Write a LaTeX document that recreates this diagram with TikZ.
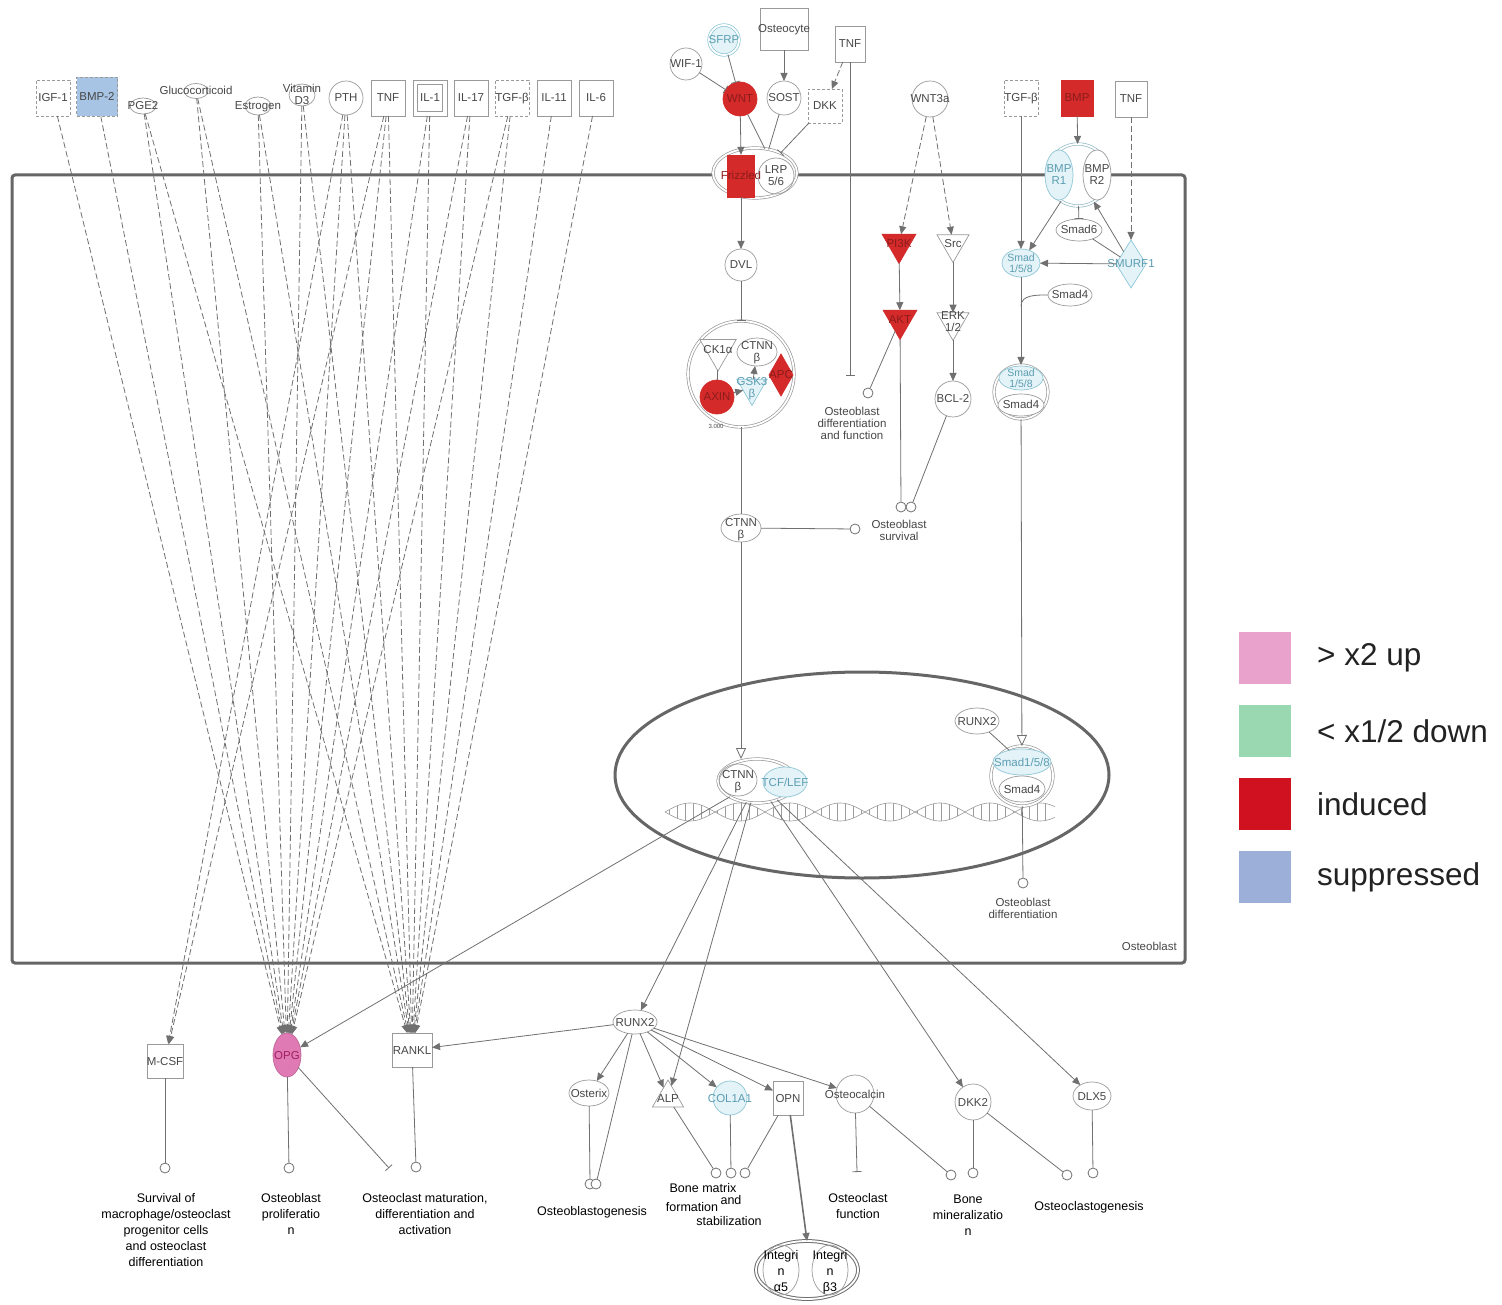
\documentclass[tikz,border=0pt]{standalone}
\usepackage{fontspec}
\setmainfont{Liberation Sans}
\usetikzlibrary{shapes.geometric,arrows.meta}
\definecolor{lc}{HTML}{707070}
\definecolor{ng}{HTML}{9A9A9A}
\definecolor{tx}{HTML}{474747}
\definecolor{ind}{HTML}{D42A2A}
\definecolor{rdt}{HTML}{8B1C1C}
\definecolor{lbo}{HTML}{8EC6D6}
\definecolor{lbf}{HTML}{E4F3F7}
\definecolor{lbt}{HTML}{5C9DB3}
\definecolor{sup}{HTML}{A8C4E4}
\definecolor{upc}{HTML}{E07AB4}
\definecolor{upt}{HTML}{A02060}
\definecolor{legpink}{HTML}{E9A2CC}
\definecolor{leggreen}{HTML}{9AD8B2}
\definecolor{legred}{HTML}{D0111F}
\definecolor{legblue}{HTML}{9BAFD9}
\definecolor{legtx}{HTML}{222222}
\definecolor{mem}{HTML}{666666}
\definecolor{dna}{HTML}{9C9C9C}
\newcommand\ndfont{\fontsize{11.5}{12}\selectfont}
\newcommand\smfont{\fontsize{10.5}{11}\selectfont}
\newcommand\lblfont{\fontsize{12.5}{16}\selectfont}
\newcommand\legfont{\fontsize{31.5}{36}\selectfont}
\newcommand\zt[1]{\makebox[0pt]{\raisebox{-.4em}[0pt][0pt]{\begin{tabular}[c]{@{}c@{}}#1\end{tabular}}}}
\begin{document}
\begin{tikzpicture}[x=1pt,y=-1pt,
 nbase/.style={draw=ng, fill=white, line width=.7pt, inner sep=0pt, outer sep=0pt, font=\ndfont, text=tx},
 bx/.style={nbase, rectangle, minimum width=34, minimum height=36},
 dbx/.style={bx, dash pattern=on 3pt off 2pt},
 cir/.style={nbase, circle, minimum size=34},
 el/.style={nbase, ellipse},
 lb/.style={draw=lbo, fill=lbf, text=lbt},
 rd/.style={draw=ind, fill=ind, text=rdt},
 dbl/.style={double=white, double distance=1.8pt},
 itri/.style={nbase, regular polygon, regular polygon sides=3, shape border rotate=180},
 utri/.style={nbase, regular polygon, regular polygon sides=3},
 dia/.style={nbase, diamond},
 res/.style={draw=lc, fill=white, circle, minimum size=10, inner sep=0pt, line width=.8pt},
 act/.style={draw=lc, line width=.8pt, -{Triangle[length=8pt,width=7pt]}},
 oact/.style={draw=lc, line width=.8pt, -{Triangle[open,length=11pt,width=10pt,fill=white]}},
 dact/.style={act, dash pattern=on 6pt off 3pt},
 inh/.style={draw=lc, line width=.8pt, -{Bar[width=9pt]}},
 lk/.style={draw=lc, line width=.8pt},
 txt/.style={font=\ndfont, text=tx, align=center, inner sep=0pt},
 lbl/.style={font=\lblfont, text=black, align=center, inner sep=0pt},
 leg/.style={minimum width=52, minimum height=52, inner sep=0pt},
 legt/.style={font=\legfont, text=legtx, anchor=west, inner sep=0pt}]
\useasboundingbox (0,0) rectangle (1502,1305);
\fill[white] (0,0) rectangle (1502,1305);

% membrane and nucleus
\draw[mem, line width=3pt, rounded corners=3] (12,175) rectangle (1185,963);
\node[draw=mem, line width=3pt, ellipse, minimum width=494, minimum height=206, inner sep=0pt] (nuc) at (862,775) {};
\draw[dna, line width=.6pt] plot[domain=665:1055, samples=200] (\x, {812+9*sin((\x-665)*3.6)});
\draw[dna, line width=.6pt] plot[domain=665:1055, samples=200] (\x, {812-9*sin((\x-665)*3.6)});
\foreach \x in {669,677,...,1051} \draw[dna, line width=.5pt] (\x,{812+9*sin((\x-665)*3.6)}) -- (\x,{812-9*sin((\x-665)*3.6)});
\node[txt, anchor=east] (ob) at (1177,946) {Osteoblast};

% ligands top left
\node[dbx] (igf) at (53,98) {\zt{IGF-1}};
\node[dbx, fill=sup, minimum width=41, minimum height=39] (bmp2) at (97,97) {\zt{BMP-2}};
\node[el, minimum width=26, minimum height=16] (pge) at (143,106) {\zt{PGE2}};
\node[el, minimum width=24, minimum height=15] (glu) at (196,91) {\zt{Glucocorticoid}};
\node[el, minimum width=26, minimum height=18] (est) at (258,106) {\zt{Estrogen}};
\node[el, minimum width=26, minimum height=22] (vit) at (302,95) {\zt{Vitamin\\D3}};
\node[cir] (pth) at (346,98) {\zt{PTH}};
\node[bx] (tnf1) at (388,98) {\zt{TNF}};
\node[bx] (il1) at (430,98) {};
\node[bx, minimum width=25, minimum height=27] (il1i) at (430,98) {\zt{IL-1}};
\node[bx] (il17) at (471,98) {\zt{IL-17}};
\node[dbx] (tgf1) at (512,98) {\zt{TGF-β}};
\node[bx] (il11) at (554,98) {\zt{IL-11}};
\node[bx] (il6) at (596,98) {\zt{IL-6}};

% bottom-left targets
\node[bx, minimum width=36, minimum height=34] (msf) at (165,1061) {\zt{M-CSF}};
\node[el, fill=upc, draw=upc!85!black, text=upt, minimum width=28, minimum height=44] (opg) at (287,1055) {\zt{OPG}};
\node[bx, minimum width=40, minimum height=34] (rankl) at (412,1050) {\zt{RANKL}};

\foreach \s/\t in {igf/opg, bmp2/opg, pge/opg, pge/rankl, glu/opg, glu/rankl, est/opg, est/rankl, vit/opg, vit/rankl, pth/msf, pth/opg, pth/rankl, tnf1/msf, tnf1/opg, tnf1/rankl, il1/opg, il1/rankl, il17/opg, il17/rankl, tgf1/opg, tgf1/rankl, il11/rankl, il6/rankl}
  \draw[dact] (\s) -- (\t);

% WNT pathway
\node[bx, minimum width=48, minimum height=42] (ocy) at (784,29) {\zt{Osteocyte}};
\node[cir, lb, dbl, minimum size=30] (sfrp) at (724,40) {\zt{SFRP}};
\node[cir, minimum size=32] (wif) at (686,64) {\zt{WIF-1}};
\node[cir, rd] (wnt) at (740,99) {\zt{WNT}};
\node[cir] (sost) at (784,98) {\zt{SOST}};
\node[dbx, minimum width=34, minimum height=34] (dkk) at (825,106) {\zt{DKK}};
\node[bx, minimum width=30, minimum height=36] (tnf2) at (850,44) {\zt{TNF}};
\node[el, dbl, minimum width=84, minimum height=50] (fzc) at (755,173) {};
\node[rectangle, rd, inner sep=0pt, minimum width=27, minimum height=42, font=\ndfont] (fz) at (741,176) {\zt{Frizzled}};
\node[cir, minimum size=36, fill=none] (lrp) at (776,176) {\zt{LRP\\5/6}};
\coordinate (odfbar) at (850,376);

\draw[inh] (wif) -- (wnt);
\draw[inh] (sfrp) -- (wnt);
\draw[act] (ocy) -- (sost);
\draw[dact] (tnf2) -- (dkk);
\draw[act] (wnt) -- (fz.north);
\draw[lk] (wnt) -- (fzc.68);
\draw[lk] (sost) -- (fzc.60);
\draw[inh] (dkk) -- (fzc.38);
\draw[inh] (tnf2) -- (odfbar);

\node[cir, minimum size=32] (dvl) at (741,265) {\zt{DVL}};
\draw[act] (fz.south) -- (dvl);
\node[cir, dbl, minimum size=106] (dcx) at (741,374) {};
\draw[inh] (dvl) -- (dcx);
\node[itri, minimum size=42] (ck) at (718,350) {\zt{CK1α}};
\node[el, minimum width=40, minimum height=28, fill=none] (ctnn1) at (757,352) {\zt{CTNN\\β}};
\node[dia, rd, minimum width=24, minimum height=42] (apc) at (781,375) {\zt{APC}};
\node[itri, lb, minimum size=35] (gsk) at (752,388) {\zt{GSK3\\β}};
\node[cir, rd] (axin) at (717,397) {\zt{AXIN}};
\draw[act] (gsk) -- (ctnn1);
\draw[act] (axin) -- (gsk);
\draw[lk] (ck) -- (axin);
\node[font=\fontsize{6}{7}\selectfont, text=tx, inner sep=0pt] (cnum) at (716,426) {3.000};

\node[el, minimum width=40, minimum height=28] (ctnn2) at (741,528) {\zt{CTNN\\β}};
\draw[lk] (dcx) -- (ctnn2);
\node[res] (ros1) at (855,529) {};
\draw[lk] (ctnn2) -- (ros1);
\node[txt] (tsurv) at (899,530) {Osteoblast\\survival};

% WNT3a branch
\node[cir, minimum size=36] (wnt3a) at (930,99) {\zt{WNT3a}};
\node[itri, rd, minimum size=39] (pi3k) at (899,244) {\zt{PI3K}};
\node[itri, minimum size=37] (src) at (953,244) {\zt{Src}};
\node[itri, rd, minimum size=39] (akt) at (900,320) {\zt{AKT}};
\node[itri, minimum size=37] (erk) at (953,322) {\zt{ERK\\1/2}};
\node[cir, minimum size=36] (bcl) at (953,399) {\zt{BCL-2}};
\draw[dact] (wnt3a) -- (pi3k);
\draw[dact] (wnt3a) -- (src);
\draw[act] (pi3k) -- (akt);
\draw[act] (src) -- (erk);
\draw[act] (erk) -- (bcl);
\node[res] (rodf) at (868,393) {};
\draw[lk] (akt) -- (rodf);
\node[txt] (todf) at (852,423) {Osteoblast\\differentiation\\and function};
\node[res] (ros2) at (901,507) {};
\node[res] (ros3) at (911,507) {};
\draw[lk] (akt) -- (ros2);
\draw[lk] (bcl) -- (ros3);

% BMP branch
\node[dbx] (tgf2) at (1021,98) {\zt{TGF-β}};
\node[bx, rd, minimum width=32] (bmp) at (1077,98) {\zt{BMP}};
\node[bx, minimum width=32] (tnf3) at (1131,99) {\zt{TNF}};
\node[cir, dbl, draw=lbo!70!ng, minimum size=62] (bmpr) at (1078,175) {};
\node[el, lb, minimum width=28, minimum height=50] (bmpr1) at (1059,175) {\zt{BMP\\R1}};
\node[el, minimum width=28, minimum height=50] (bmpr2) at (1097,175) {\zt{BMP\\R2}};
\node[el, minimum width=46, minimum height=22] (smad6) at (1079,230) {\zt{Smad6}};
\node[dia, lb, minimum width=30, minimum height=48] (smurf) at (1131,264) {\zt{SMURF1}};
\node[el, lb, minimum width=38, minimum height=28, font=\smfont] (s158) at (1021,263) {\zt{Smad\\1/5/8}};
\node[el, minimum width=44, minimum height=22] (s4a) at (1070,295) {\zt{Smad4}};
\coordinate (j4) at (1021,306);
\node[cir, dbl, minimum size=54] (smc) at (1021,392) {};
\node[el, lb, minimum width=44, minimum height=24, font=\smfont] (smc1) at (1021,378) {\zt{Smad\\1/5/8}};
\node[el, minimum width=46, minimum height=22] (smc4) at (1021,405) {\zt{Smad4}};
\draw[act] (tgf2) -- (s158);
\draw[act] (bmp) -- (bmpr);
\draw[dact] (tnf3) -- (smurf);
\draw[act] (bmpr) -- (s158);
\draw[inh] (bmpr) -- (smad6);
\draw[act] (smurf) -- (bmpr);
\draw[lk] (smad6) -- (smurf);
\draw[act] (smurf) -- (s158);
\draw[act] (s158) -- (smc);
\draw[lk] (s4a.west) to[out=180,in=90] (j4);

% nucleus contents
\node[el, dbl, minimum width=78, minimum height=44, fill=none] (ntc) at (757,781) {};
\node[el, minimum width=38, minimum height=32, fill=none] (nctnn) at (738,780) {\zt{CTNN\\β}};
\node[el, lb, minimum width=44, minimum height=30] (ntcf) at (785,782) {\zt{TCF/LEF}};
\node[el, minimum width=44, minimum height=26] (nrunx) at (977,721) {\zt{RUNX2}};
\node[el, dbl, minimum width=62, minimum height=60] (nsm) at (1022,776) {};
\node[el, lb, minimum width=58, minimum height=26] (nsm1) at (1022,762) {\zt{Smad1/5/8}};
\node[el, minimum width=46, minimum height=26] (nsm4) at (1022,789) {\zt{Smad4}};
\draw[lk] (nrunx) -- (nsm1);
\draw[oact] (smc) -- (nsm);
\draw[oact] (ctnn2) -- (ctnn2 |- ntc.north);
\node[res] (rod) at (1023,883) {};
\draw[lk] (nsm) -- (rod);
\node[txt] (tod) at (1023,908) {Osteoblast\\differentiation};

% targets below
\node[el, minimum width=44, minimum height=24] (runx) at (635,1022) {\zt{RUNX2}};
\node[utri, minimum size=36] (alp) at (668,1098) {\zt{ALP}};
\node[el, minimum width=40, minimum height=26] (osx) at (589,1093) {\zt{Osterix}};
\node[cir, lb] (col) at (730,1098) {\zt{COL1A1}};
\node[bx, minimum width=30, minimum height=34] (opn) at (788,1098) {\zt{OPN}};
\node[cir, minimum size=38] (ocn) at (855,1094) {\zt{Osteocalcin}};
\node[el, minimum width=36, minimum height=36] (dkk2) at (973,1102) {\zt{DKK2}};
\node[el, minimum width=38, minimum height=28] (dlx5) at (1092,1096) {\zt{DLX5}};

\draw[act] (ntc) -- (opg);
\draw[act] (ntc) -- (runx);
\draw[act] (ntc) -- (alp);
\draw[act] (ntc) -- (dkk2);
\draw[act] (ntc) -- (dlx5);
\draw[act] (runx) -- (rankl);
\draw[act] (runx) -- (osx);
\draw[act] (runx) -- (alp);
\draw[act] (runx) -- (col);
\draw[act] (runx) -- (opn);
\draw[act] (runx) -- (ocn);

\node[res] (rm) at (165,1168) {};
\draw[lk] (msf) -- (rm);
\node[res] (ro) at (289,1168) {};
\draw[lk] (opg) -- (ro);
\coordinate (obar) at (389,1168);
\draw[inh] (opg) -- (obar);
\node[res] (rr) at (416,1167) {};
\draw[lk] (rankl) -- (rr);
\node[lbl] (tm) at (166,1230) {Survival of\\macrophage/osteoclast\\progenitor cells\\and osteoclast\\differentiation};
\node[lbl] (tp) at (291,1214) {Osteoblast\\proliferatio\\n};
\node[lbl] (tr) at (425,1214) {Osteoclast maturation,\\differentiation and\\activation};

\node[res] (ros5) at (590,1184) {};
\node[res] (ros6) at (596,1184) {};
\draw[lk] (osx) -- (ros5);
\draw[lk] (runx) -- (ros6);
\node[lbl] (tog) at (592,1212) {Osteoblastogenesis};

\node[res] (ros7) at (716,1173) {};
\node[res] (ros8) at (731,1173) {};
\node[res] (ros9) at (745,1173) {};
\draw[lk] (alp) -- (ros7);
\draw[lk] (col) -- (ros8);
\draw[lk] (opn) -- (ros9);
\node[lbl] (tb1) at (703,1188) {Bone matrix};
\node[lbl] (tb2) at (692,1207) {formation};
\node[lbl] (tb3) at (731,1200) {and};
\node[lbl] (tb4) at (729,1221) {stabilization};

\node[el, dbl, draw=lc, line width=1pt, minimum width=102, minimum height=58] (itg) at (807,1270) {};
\node[el, minimum width=36, minimum height=50, text=black, font=\lblfont, fill=none] (itga) at (781,1270) {\zt{Integri\\n\\α5}};
\node[el, minimum width=36, minimum height=50, text=black, font=\lblfont, fill=none] (itgb) at (830,1270) {\zt{Integri\\n\\β3}};
\draw[act, line width=1.6pt] (opn) -- (itg.north);

\coordinate (ocfbar) at (857,1172);
\draw[inh] (ocn) -- (ocfbar);
\node[lbl] (tocf) at (858,1206) {Osteoclast\\function};
\node[res] (ros10) at (951,1175) {};
\node[res] (ros11) at (973,1173) {};
\node[res] (ros12) at (1067,1175) {};
\node[res] (ros13) at (1093,1173) {};
\draw[lk] (ocn) -- (ros10);
\draw[lk] (dkk2) -- (ros11);
\draw[lk] (dkk2) -- (ros12);
\draw[lk] (dlx5) -- (ros13);
\node[lbl] (tbm) at (968,1215) {Bone\\mineralizatio\\n};
\node[lbl] (tocg) at (1089,1207) {Osteoclastogenesis};

% legend
\node[leg, fill=legpink] (l1) at (1265,658) {};
\node[leg, fill=leggreen] (l2) at (1265,731) {};
\node[leg, fill=legred] (l3) at (1265,804) {};
\node[leg, fill=legblue] (l4) at (1265,877) {};
\node[legt] (lt1) at (1317,658) {> x2 up};
\node[legt] (lt2) at (1317,731) {< x1/2 down};
\node[legt] (lt3) at (1317,804) {induced};
\node[legt] (lt4) at (1317,877) {suppressed};
\end{tikzpicture}
\end{document}
